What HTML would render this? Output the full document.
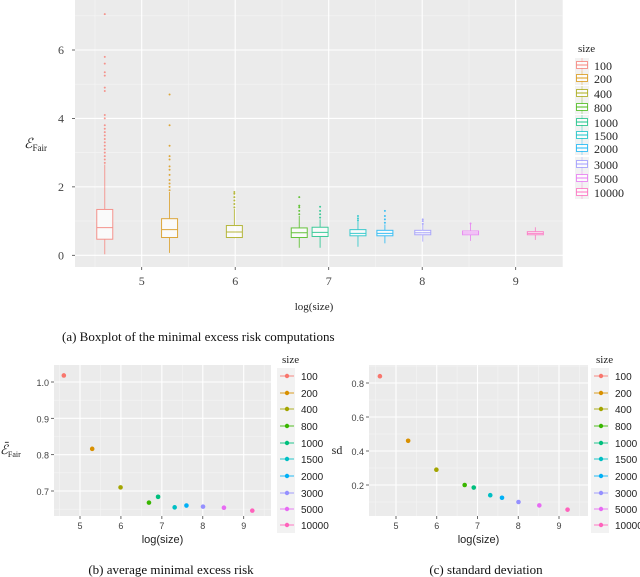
<!DOCTYPE html>
<html><head><meta charset="utf-8"><style>
body{margin:0;background:#fff;width:640px;height:577px;overflow:hidden}
svg{display:block}
.ser{font-family:"Liberation Serif",serif}
.san{font-family:"Liberation Sans",sans-serif}
</style></head><body>
<svg id="fig" width="640" height="577" viewBox="0 0 640 577" xmlns="http://www.w3.org/2000/svg"></svg>
<script>
const sizes=["100","200","400","800","1000","1500","2000","3000","5000","10000"];
const logSize=[4.605,5.298,5.991,6.685,6.908,7.313,7.601,8.006,8.517,9.210];
const colors=["#F8766D","#D89000","#A3A500","#39B600","#00BF7D","#00BFC4","#00B0F6","#9590FF","#E76BF3","#FF62BC"];
const q1=[0.47,0.52,0.52,0.52,0.55,0.57,0.57,0.60,0.60,0.60];
const med=[0.81,0.75,0.68,0.66,0.67,0.64,0.64,0.66,0.65,0.64];
const q3=[1.34,1.07,0.87,0.80,0.82,0.75,0.73,0.73,0.71,0.69];
const wLo=[0.03,0.07,0.50,0.22,0.22,0.25,0.35,0.40,0.42,0.45];
const wHi=[2.65,1.85,1.35,1.15,1.05,1.00,0.90,0.90,0.92,0.82];
const outliers=[
 [2.7,2.8,2.9,3.0,3.1,3.2,3.3,3.4,3.5,3.6,3.7,3.8,4.0,4.1,4.8,4.9,5.25,5.35,5.6,5.8,7.05],
 [1.9,2.0,2.1,2.2,2.35,2.5,2.6,2.8,2.9,3.2,3.8,4.7],
 [1.4,1.5,1.6,1.7,1.8,1.85],
 [1.2,1.3,1.4,1.45,1.7],
 [1.1,1.2,1.3,1.42],
 [1.02,1.08,1.15],
 [0.95,1.05,1.15,1.3],
 [0.92,1.0,1.05],
 [0.93],
 []];
const meanRisk=[1.018,0.816,0.710,0.668,0.684,0.655,0.660,0.657,0.654,0.646];
const sdRisk=[0.84,0.46,0.29,0.20,0.185,0.14,0.125,0.10,0.08,0.055];
const topYTicks=[0,2,4,6];
const xTicks=[5,6,7,8,9];
const bYTicks=[0.7,0.8,0.9,1.0];
const cYTicks=[0.2,0.4,0.6,0.8];

const NS="http://www.w3.org/2000/svg";
const svg=document.getElementById('fig');
function el(tag,attrs,parent,text){const e=document.createElementNS(NS,tag);for(const k in attrs)e.setAttribute(k,attrs[k]);if(text!==undefined)e.textContent=text;(parent||svg).appendChild(e);return e;}
function lin(d0,d1,r0,r1){return v=>r0+(v-d0)*(r1-r0)/(d1-d0);}

function panel(name,L,R,T,B,xs,ys,xt,yt,fmt,cls,fs,yoff,xoff){
 const g=el('g',{},svg);
 
 el('rect',{x:L,y:T,width:R-L,height:B-T,fill:'#EBEBEB'},g);
 for(let i=0;i<xt.length;i++){const m=xt[i]-0.5;const px=xs(m);if(px>L&&px<R)el('line',{x1:px,x2:px,y1:T,y2:B,stroke:'#F5F5F5','stroke-width':0.6},g);}
 const lastx=xt[xt.length-1]+0.5;if(xs(lastx)<R)el('line',{x1:xs(lastx),x2:xs(lastx),y1:T,y2:B,stroke:'#F5F5F5','stroke-width':0.6},g);
 const dy=yt[1]-yt[0];
 for(let i=-1;i<yt.length;i++){const m=yt[0]+(i+0.5)*dy;const py=ys(m);if(py>T&&py<B)el('line',{x1:L,x2:R,y1:py,y2:py,stroke:'#F5F5F5','stroke-width':0.6},g);}
 for(const t of xt){const px=xs(t);el('line',{x1:px,x2:px,y1:T,y2:B,stroke:'#fff','stroke-width':1.1},g);
  el('line',{x1:px,x2:px,y1:B,y2:B+3,stroke:'#444','stroke-width':0.8},g);
  const tx=el('text',{x:px,y:B+xoff,'text-anchor':'middle','font-size':fs,fill:'#444',class:cls},g,String(t));}
 for(const t of yt){const py=ys(t);el('line',{x1:L,x2:R,y1:py,y2:py,stroke:'#fff','stroke-width':1.1},g);
  el('line',{x1:L-3,x2:L,y1:py,y2:py,stroke:'#444','stroke-width':0.8},g);
  const tx=el('text',{x:L-yoff,y:py+4,'text-anchor':'end','font-size':fs,fill:'#444',class:cls},g,fmt(t));}
 return g;
}
function legend(name,x,titleY,ys,kind,cls,fs,bg){
 const g=el('g',{},svg);
 el('text',{x:x+3,y:titleY,'font-size':11,fill:'#222',class:'ser'},g,'size');
 if(bg)el('rect',{x:x-2,y:ys[0]-8,width:18,height:ys[ys.length-1]-ys[0]+16,fill:'#F2F2F2'},g);
 for(let i=0;i<sizes.length;i++){
  const y=ys[i];const e=el('g',{},g);
  if(kind==='box'){el('rect',{x:x,y:y-8,width:14,height:14,fill:'#F2F2F2'},e);
   el('line',{x1:x+7,x2:x+7,y1:y-8,y2:y+6,stroke:colors[i],'stroke-width':0.6,opacity:0.6},e);
   el('rect',{x:x+1.5,y:y-4.5,width:11,height:7,fill:'#fff',stroke:colors[i],'stroke-width':0.9,opacity:0.8},e);
   el('line',{x1:x+1.5,x2:x+12.5,y1:y-1,y2:y-1,stroke:colors[i],'stroke-width':0.9},e);
   el('text',{x:x+19,y:y+4,'font-size':12,fill:'#222',class:'ser'},e,sizes[i]);}
  else{el('line',{x1:x+1,x2:x+15,y1:y,y2:y,stroke:colors[i],'stroke-width':1.2,opacity:0.7},e);
   el('circle',{cx:x+8,cy:y,r:2.2,fill:colors[i]},e);
   el('text',{x:x+22,y:y+4,'font-size':fs,fill:'#222',class:cls},e,sizes[i]);}
 }
}

// Top boxplot
(function(){
 const L=75,R=563,T=0,B=267;
 const xs=lin(5,9,141.7,515.7), ys=lin(0,6,255.3,50);
 panel('boxplot',L,R,T,B,xs,ys,xTicks,topYTicks,v=>String(v),'ser',12,11,18);
 const g=el('g',{},svg);
 for(let i=0;i<sizes.length;i++){
  const c=colors[i],cx=xs(logSize[i]),w=8;
  const b=el('g',{opacity:0.75},g);
  el('line',{x1:cx,x2:cx,y1:ys(wLo[i]),y2:ys(q1[i]),stroke:c,'stroke-width':0.9},b);
  el('line',{x1:cx,x2:cx,y1:ys(wHi[i]),y2:ys(q3[i]),stroke:c,'stroke-width':0.9},b);
  el('rect',{x:cx-w,y:ys(q3[i]),width:2*w,height:ys(q1[i])-ys(q3[i]),fill:'#fff',stroke:c,'stroke-width':1},b);
  el('line',{x1:cx-w,x2:cx+w,y1:ys(med[i]),y2:ys(med[i]),stroke:c,'stroke-width':1},b);
  for(const o of outliers[i])el('circle',{cx:cx,cy:ys(o),r:1,fill:c},b);
 }
 const yt=el('text',{x:24,y:148,'font-size':14,fill:'#222',class:'ser','font-style':'italic'},svg,'ℰ');
 
 el('tspan',{'font-size':9,'font-style':'normal',dy:3},yt,'Fair');
 const xt=el('text',{x:314,y:310,'text-anchor':'middle','font-size':11,fill:'#222',class:'ser'},svg,'log(size)');
 
 legend('boxplot-legend',575,52,[66,79,94,108,123,136,149,165,179,193],'box');
 const cap=el('text',{x:62,y:341,'font-size':13,fill:'#111',class:'ser'},svg,'(a) Boxplot of the minimal excess risk computations');
 
})();

function scatter(name,L,R,T,B,xs,ys,yt,vals,fmt){
 panel(name,L,R,T,B,xs,ys,xTicks,yt,fmt,'san',9,5,13);
 const g=el('g',{},svg);
 for(let i=0;i<sizes.length;i++){const p=el('circle',{cx:xs(logSize[i]),cy:ys(vals[i]),r:2.3,fill:colors[i]},g);
  }
 const xt=el('text',{x:(L+R)/2,y:543,'text-anchor':'middle','font-size':11,fill:'#222',class:'san'},svg,'log(size)');
 
}
const legYs=[376,393,409,426,443,459,476,493,509,525];
// (b)
(function(){
 const xs=lin(5,9,80,243.7), ys=lin(0.7,1.0,491,382);
 scatter('mean-risk',54,271,365,516,xs,ys,bYTicks,meanRisk,v=>v.toFixed(1));
 const yt=el('text',{x:0,y:454,'font-size':13,fill:'#222',class:'ser','font-style':'italic'},svg,'ℰ̄');
 
 el('tspan',{'font-size':8,'font-style':'normal',dy:3},yt,'Fair');
 legend('mean-risk-legend',279,363,legYs,'pt','san',10,true);
 const cap=el('text',{x:171,y:574,'text-anchor':'middle','font-size':13,fill:'#111',class:'ser'},svg,'(b) average minimal excess risk');
 
})();
// (c)
(function(){
 const xs=lin(5,9,396,559), ys=lin(0.2,0.8,485,383);
 scatter('sd',369,588,365,516,xs,ys,cYTicks,sdRisk,v=>v.toFixed(1));
 const yt=el('text',{x:337,y:454,'text-anchor':'middle','font-size':12,fill:'#222',class:'ser'},svg,'sd');
 
 legend('sd-legend',593,363,legYs,'pt','san',10,true);
 const cap=el('text',{x:486,y:574,'text-anchor':'middle','font-size':13,fill:'#111',class:'ser'},svg,'(c) standard deviation');
 
})();
</script>
</body></html>
